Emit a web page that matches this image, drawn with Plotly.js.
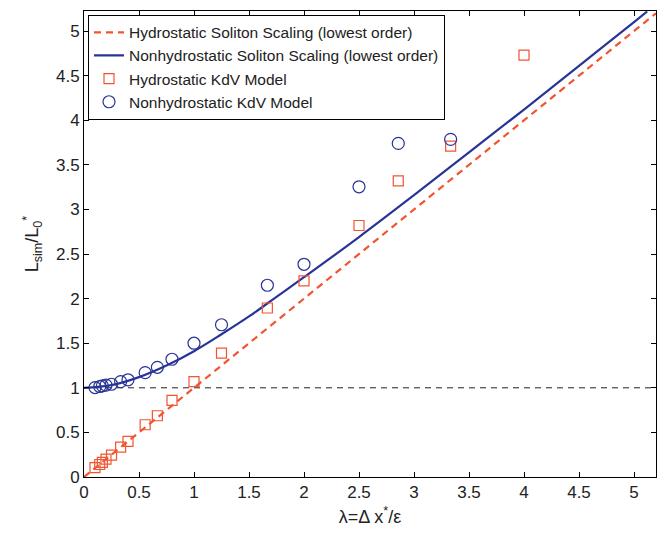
<!DOCTYPE html>
<html>
<head>
<meta charset="utf-8">
<script src="https://cdn.plot.ly/plotly-3.0.1.min.js"></script>
<style>html,body{margin:0;padding:0;background:#fff;}#chart{width:662px;height:537px;}</style>
</head>
<body>
<div id="chart"></div>
<script>
// Theory lines
const hydroLineX = [0, 5.2];
const hydroLineY = [0, 5.2];
const nonhydroLineX = [0, 0.25, 0.5, 0.75, 1, 1.25, 1.5, 1.75, 2, 2.5, 3, 3.5, 4, 4.5, 5, 5.12];
const nonhydroLineY = [1.0, 1.03, 1.12, 1.25, 1.41, 1.60, 1.80, 2.02, 2.24, 2.69, 3.16, 3.64, 4.12, 4.61, 5.10, 5.22];
const refLineX = [0, 5.2];
const refLineY = [1, 1];

// Model results
const hydroKdvX = [0.1, 0.143, 0.167, 0.2, 0.25, 0.333, 0.4, 0.556, 0.667, 0.8, 1.0, 1.25, 1.667, 2.0, 2.5, 2.857, 3.333, 4.0];
const hydroKdvY = [0.105, 0.14, 0.165, 0.2, 0.245, 0.336, 0.40, 0.586, 0.687, 0.86, 1.07, 1.39, 1.895, 2.20, 2.82, 3.32, 3.71, 4.73];
const nonhydroKdvX = [0.1, 0.143, 0.167, 0.2, 0.25, 0.333, 0.4, 0.556, 0.667, 0.8, 1.0, 1.25, 1.667, 2.0, 2.5, 2.857, 3.333];
const nonhydroKdvY = [1.003, 1.015, 1.022, 1.03, 1.04, 1.07, 1.09, 1.17, 1.23, 1.32, 1.50, 1.707, 2.15, 2.385, 3.254, 3.74, 3.785];

const names = [
  'Hydrostatic Soliton Scaling (lowest order)',
  'Nonhydrostatic Soliton Scaling (lowest order)',
  'Hydrostatic KdV Model',
  'Nonhydrostatic KdV Model'
];

const orange = 'rgb(242,84,48)';
const blue = 'rgb(40,52,150)';

const traces = [
  {x: refLineX, y: refLineY, mode: 'lines', showlegend: false, hoverinfo: 'skip',
   line: {color: '#222', width: 1, dash: '6px,5px'}},
  {x: hydroLineX, y: hydroLineY, mode: 'lines', name: names[0],
   line: {color: orange, width: 2.2, dash: '7px,5px'}},
  {x: nonhydroLineX, y: nonhydroLineY, mode: 'lines', name: names[1],
   line: {color: blue, width: 2.2, shape: 'spline'}},
  {x: hydroKdvX, y: hydroKdvY, mode: 'markers', name: names[2],
   marker: {symbol: 'square-open', size: 10, color: orange, line: {width: 1.2}}},
  {x: nonhydroKdvX, y: nonhydroKdvY, mode: 'markers', name: names[3],
   marker: {symbol: 'circle-open', size: 12, color: blue, line: {width: 1.2}}}
];

const axisCommon = {
  showgrid: false, zeroline: false,
  showline: true, linecolor: '#000', linewidth: 1, mirror: 'ticks',
  ticks: 'inside', ticklen: 5, tickcolor: '#000', tickwidth: 1,
  dtick: 0.5, tick0: 0,
  tickfont: {family: 'Liberation Sans, Arial, sans-serif', size: 17, color: '#222'}
};

const layout = {
  width: 662, height: 537,
  margin: {l: 84, r: 6, t: 11, b: 60},
  paper_bgcolor: '#fff', plot_bgcolor: '#fff',
  font: {family: 'Liberation Sans, Arial, sans-serif', color: '#222'},
  xaxis: Object.assign({}, axisCommon, {
    range: [0, 5.2],
    title: {text: 'λ=Δ x<sup>*</sup>/ε', font: {size: 18, color: '#222'}, standoff: 8}
  }),
  yaxis: Object.assign({}, axisCommon, {
    range: [0, 5.225],
    title: {text: 'L<sub>sim</sub>/L<sub>0</sub><sup>*</sup>', font: {size: 18, color: '#222'}, standoff: 12}
  }),
  legend: {
    x: 0.007, y: 0.992, xanchor: 'left', yanchor: 'top',
    bgcolor: '#fff', bordercolor: '#000', borderwidth: 1,
    font: {family: 'Liberation Sans, Arial, sans-serif', size: 15.5, color: '#222'},
    tracegroupgap: 0, itemwidth: 30
  },
  showlegend: true
};

Plotly.newPlot('chart', traces, layout, {displayModeBar: false, staticPlot: true});
</script>
</body>
</html>
